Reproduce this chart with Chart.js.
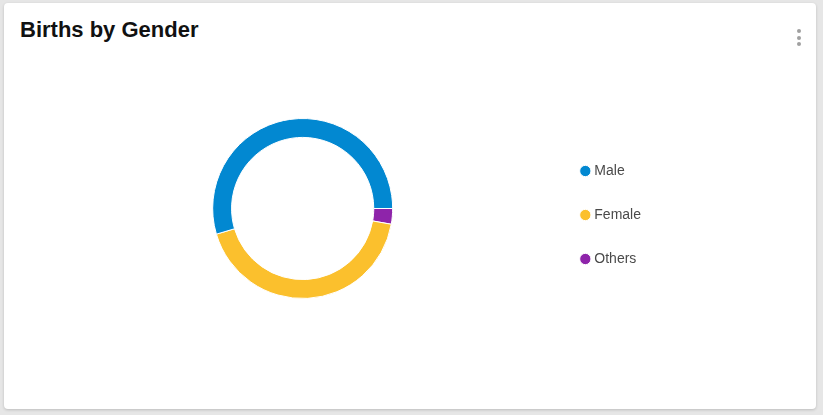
<!DOCTYPE html>
<html>
<head>
<meta charset="utf-8">
<script src="https://cdn.jsdelivr.net/npm/chart.js@4"></script>
<style>
  html, body { margin: 0; padding: 0; background: #e6e6e6; }
  body { width: 823px; height: 415px; position: relative; overflow: hidden; font-family: "Liberation Sans", Arial, sans-serif; }
  .card {
    position: absolute; left: 4px; top: 3px; width: 812px; height: 406px;
    background: #fff; border-radius: 4px;
    box-shadow: 0 1px 3px rgba(0,0,0,0.18);
  }
  .card h2 {
    position: absolute; left: 16px; top: 14px; margin: 0;
    font-size: 22px; font-weight: bold; color: #111; line-height: normal;
  }
  .menu { position: absolute; left: 792px; top: 26px; width: 6px; }
  .menu span { display: block; width: 4px; height: 4px; border-radius: 50%; background: #a0a0a0; margin: 0 0 2.5px 1px; }
  .chart-box { position: absolute; left: 0; top: 57px; width: 812px; height: 297px; }
</style>
</head>
<body>
<div class="card">
  <h2>Births by Gender</h2>
  <div class="menu"><span></span><span></span><span></span></div>
  <div class="chart-box"><canvas id="genderChart"></canvas></div>
</div>
<script>
// data listed in drawing order (clockwise from 3 o'clock), legend reversed
const labels = ["Others", "Female", "Male"];
const births = [2.8, 42.6, 54.6];
const colors = ["#8e24aa", "#fbc02d", "#0288d1"];

document.addEventListener("DOMContentLoaded", () => {
    const ctx = document.getElementById('genderChart').getContext('2d');

    new Chart(ctx, {
        type: 'doughnut',
        data: {
            labels: labels,
            datasets: [{
                data: births,
                backgroundColor: colors,
                borderColor: '#ffffff',
                borderWidth: 1,
                hoverOffset: 0
            }]
        },
        options: {
            responsive: true,
            maintainAspectRatio: false,
            animation: false,
            rotation: 90,
            radius: 90,
            cutout: '79%',
            layout: { padding: { left: 48, right: 165 } },
            plugins: {
                tooltip: { enabled: false },
                legend: {
                    position: 'right',
                    reverse: true,
                    title: { display: true, text: ' ', font: { size: 13, lineHeight: 1 }, padding: 0 },
                    labels: {
                        usePointStyle: true,
                        pointStyle: 'circle',
                        boxWidth: 4,
                        boxHeight: 8,
                        padding: 30,
                        color: '#4a4a4a',
                        font: { family: '"Liberation Sans", Arial, sans-serif', size: 14 }
                    }
                }
            }
        }
    });
});
</script>
</body>
</html>
